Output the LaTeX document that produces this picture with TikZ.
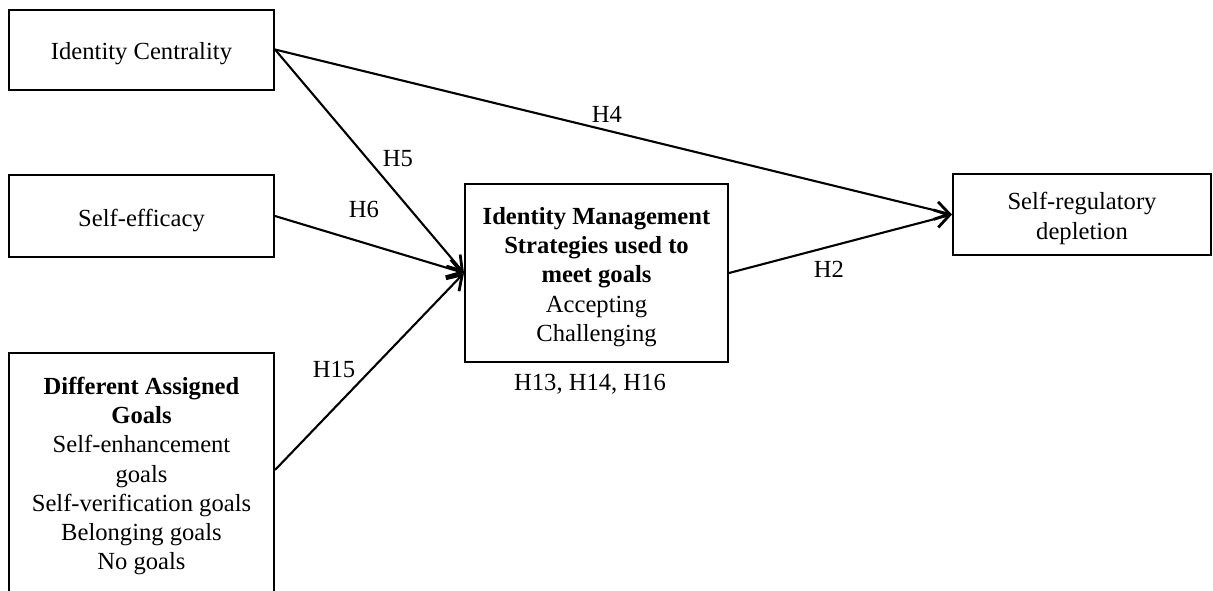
\documentclass[tikz,border=0pt]{standalone}
\usepackage{fontspec}
\setmainfont{Liberation Serif}
\usetikzlibrary{arrows.meta}
\begin{document}
\begin{tikzpicture}[x=0.5pt,y=-0.5pt,
  every node/.style={font=\fontsize{12.3}{14.6}\selectfont},
  box/.style={draw,line width=1pt,inner sep=0pt},
  boxtext/.style={align=center,inner sep=0pt,yshift=-2pt},
  hlabel/.style={inner sep=0pt},
  link/.style={line width=1.05pt,-{Straight Barb[length=7pt,width=9pt,line width=1.4pt]}}]
\useasboundingbox (0,0) rectangle (1213,590);
\clip (0,0) rectangle (1213,590);
% predictor boxes
\node[box,minimum width=132.5pt,minimum height=40pt] (ic) at (141.5,49.5) {};
\node[boxtext] (ict) at (ic) {Identity Centrality};
\node[box,minimum width=132.5pt,minimum height=41pt] (se) at (141.5,216) {};
\node[boxtext] (set) at (se) {Self-efficacy};
\node[box,minimum width=132.5pt,minimum height=121pt] (dag) at (141.5,474) {};
\node[boxtext,yshift=1pt] (dagt) at (dag)
  {\textbf{Different Assigned}\\\textbf{Goals}\\Self-enhancement\\goals\\Self-verification goals\\Belonging goals\\No goals};
% mediator and outcome
\node[box,minimum width=131.5pt,minimum height=89pt] (cm) at (596.5,273) {};
\node[boxtext] (cmt) at (cm)
  {\textbf{Identity Management}\\\textbf{Strategies used to}\\\textbf{meet goals}\\Accepting\\Challenging};
\node[box,minimum width=129pt,minimum height=40.5pt] (srd) at (1082,214.5) {};
\node[boxtext] (srdt) at (srd) {Self-regulatory\\depletion};
% paths
\draw[link] (ic.east) -- (cm.west);
\draw[link] (se.east) -- (cm.west);
\draw[link] ([yshift=2pt]dag.east) -- (cm.west);
\draw[link] (ic.east) -- (srd.west);
\draw[link] (cm.east) -- (srd.west);
% hypothesis labels
\node[hlabel] (h4) at (607,114) {H4};
\node[hlabel] (h5) at (398,159) {H5};
\node[hlabel] (h6) at (364,209) {H6};
\node[hlabel] (h15) at (334,369) {H15};
\node[hlabel] (h2) at (829,269) {H2};
\node[hlabel] (h13) at (590,384) {H13, H14, H16};
\end{tikzpicture}
\end{document}
